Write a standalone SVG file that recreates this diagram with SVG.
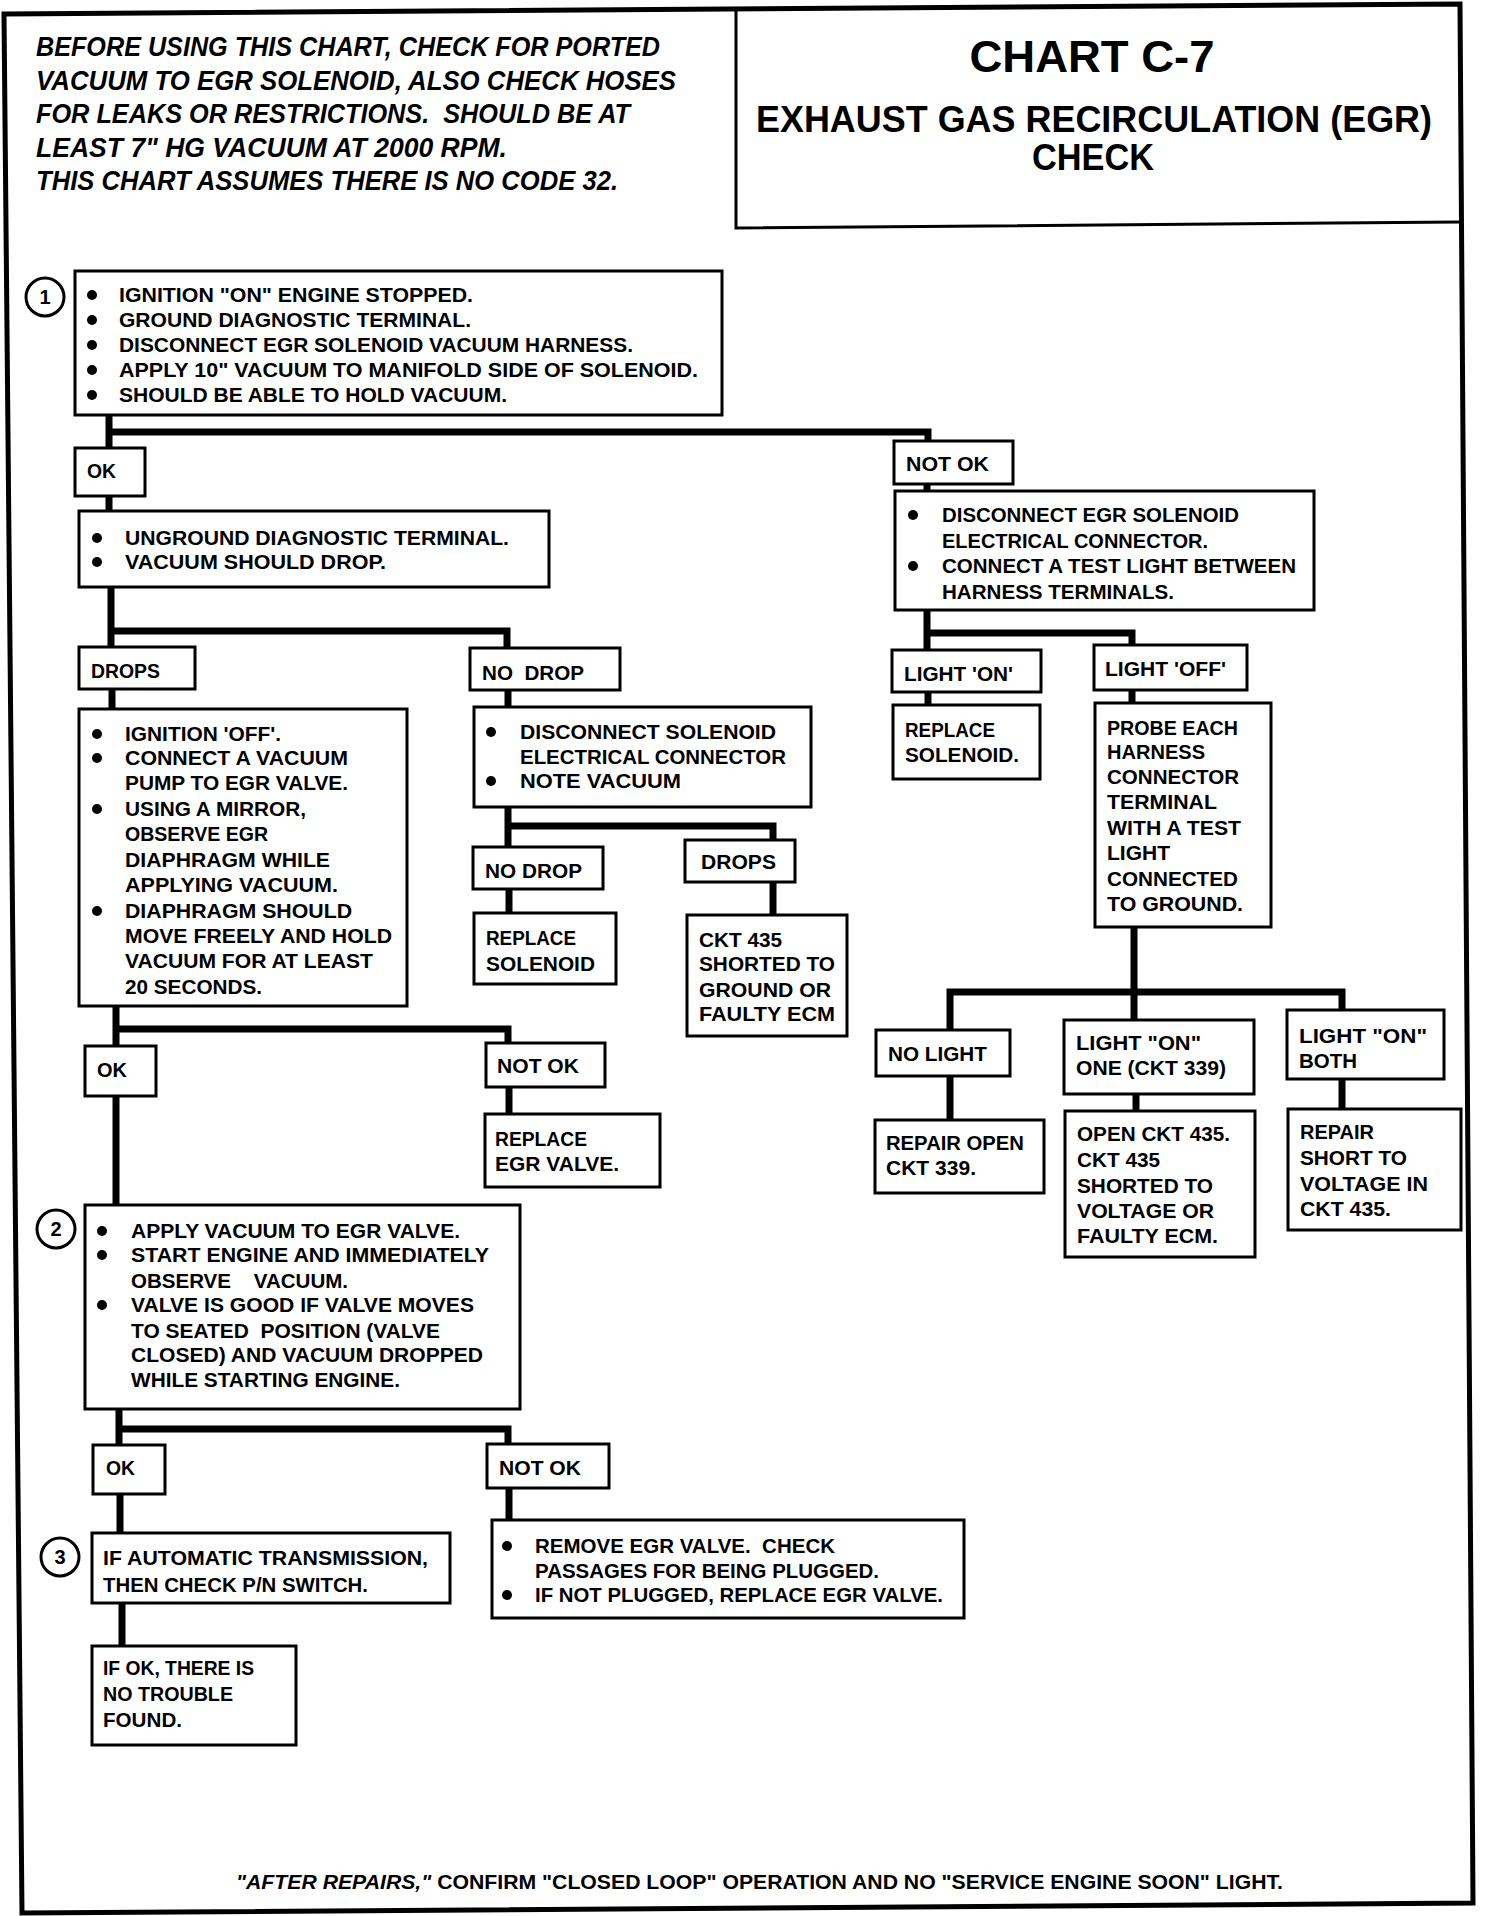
<svg xmlns="http://www.w3.org/2000/svg" width="1504" height="1916" viewBox="0 0 1504 1916">
<style>
.box{fill:#fff;stroke:#000;stroke-width:3}
.t{font-family:"Liberation Sans",Arial,sans-serif;font-weight:bold;font-size:21px;fill:#000}
.h{font-family:"Liberation Sans",Arial,sans-serif;font-weight:bold;font-style:italic;font-size:27px;fill:#000}
.ti{font-family:"Liberation Sans",Arial,sans-serif;font-weight:bold;fill:#000;text-anchor:middle}
.conn{stroke:#000;stroke-width:7;fill:none;stroke-linecap:square}
.num{fill:#fff;stroke:#000;stroke-width:3}
.b{fill:#000}
</style>
<rect width="1504" height="1916" fill="#fff"/>
<g id="frame">
<polygon points="4,14 1460,4 1473,1903 22,1913" fill="none" stroke="#000" stroke-width="5"/>
<path d="M736,10 V228 L1460,222" fill="none" stroke="#000" stroke-width="3"/>
</g>
<g id="header">
<text class="h" x="36" y="56" textLength="624" lengthAdjust="spacingAndGlyphs">BEFORE USING THIS CHART, CHECK FOR PORTED</text>
<text class="h" x="36" y="90" textLength="640" lengthAdjust="spacingAndGlyphs">VACUUM TO EGR SOLENOID, ALSO CHECK HOSES</text>
<text class="h" x="36" y="123" textLength="594" lengthAdjust="spacingAndGlyphs" xml:space="preserve">FOR LEAKS OR RESTRICTIONS.  SHOULD BE AT</text>
<text class="h" x="36" y="157" textLength="471" lengthAdjust="spacingAndGlyphs">LEAST 7" HG VACUUM AT 2000 RPM.</text>
<text class="h" x="36" y="190" textLength="582" lengthAdjust="spacingAndGlyphs">THIS CHART ASSUMES THERE IS NO CODE 32.</text>
</g>
<g id="title">
<text class="ti" x="1092" y="72" font-size="44" textLength="245" lengthAdjust="spacingAndGlyphs">CHART C-7</text>
<text class="ti" x="1094" y="132" font-size="37" textLength="676" lengthAdjust="spacingAndGlyphs">EXHAUST GAS RECIRCULATION (EGR)</text>
<text class="ti" x="1093" y="170" font-size="37" textLength="122" lengthAdjust="spacingAndGlyphs">CHECK</text>
</g>
<g id="connectors">
<path class="conn" d="M109,415 V448 M109,432 H928 V441"/>
<path class="conn" d="M109,496 V511"/>
<path class="conn" d="M111,587 V647 M111,631 H507 V648"/>
<path class="conn" d="M112,689 V709"/>
<path class="conn" d="M508,690 V707"/>
<path class="conn" d="M508,807 V847 M508,826 H773 V840"/>
<path class="conn" d="M509,889 V913"/>
<path class="conn" d="M773,882 V915"/>
<path class="conn" d="M116,1006 V1046 M116,1029 H508 V1043"/>
<path class="conn" d="M509,1087 V1114"/>
<path class="conn" d="M116,1096 V1205"/>
<path class="conn" d="M119,1409 V1445 M119,1429 H508 V1444"/>
<path class="conn" d="M120,1494 V1533"/>
<path class="conn" d="M509,1488 V1520"/>
<path class="conn" d="M122,1603 V1646"/>
<path class="conn" d="M927,484 V491"/>
<path class="conn" d="M927,610 V650 M927,633 H1132 V645"/>
<path class="conn" d="M928,692 V705"/>
<path class="conn" d="M1132,690 V703"/>
<path class="conn" d="M1134,927 V1020 M950,992 H1342 V1010 M950,992 V1030"/>
<path class="conn" d="M950,1076 V1120"/>
<path class="conn" d="M1136,1094 V1111"/>
<path class="conn" d="M1342,1079 V1109"/>
</g>
<g id="step1">
<circle class="num" cx="45" cy="297" r="19"/>
<text class="ti" x="45" y="304" font-size="20">1</text>
<rect class="box" x="75" y="271" width="647" height="144"/>
<circle class="b" cx="92" cy="295" r="5"/><circle class="b" cx="92" cy="320" r="5"/><circle class="b" cx="92" cy="345" r="5"/><circle class="b" cx="92" cy="370" r="5"/><circle class="b" cx="92" cy="395" r="5"/>
<text class="t" x="119" y="302" textLength="354" lengthAdjust="spacingAndGlyphs">IGNITION "ON" ENGINE STOPPED.</text>
<text class="t" x="119" y="327" textLength="352" lengthAdjust="spacingAndGlyphs">GROUND DIAGNOSTIC TERMINAL.</text>
<text class="t" x="119" y="352" textLength="514" lengthAdjust="spacingAndGlyphs">DISCONNECT EGR SOLENOID VACUUM HARNESS.</text>
<text class="t" x="119" y="377" textLength="579" lengthAdjust="spacingAndGlyphs">APPLY 10" VACUUM TO MANIFOLD SIDE OF SOLENOID.</text>
<text class="t" x="119" y="402" textLength="388" lengthAdjust="spacingAndGlyphs">SHOULD BE ABLE TO HOLD VACUUM.</text>
</g>
<g id="ok1"><rect class="box" x="75" y="448" width="70" height="48"/><text class="t" x="87" y="478" textLength="29" lengthAdjust="spacingAndGlyphs">OK</text></g>
<g id="notok1"><rect class="box" x="894" y="441" width="119" height="43"/><text class="t" x="906" y="471" textLength="83" lengthAdjust="spacingAndGlyphs">NOT OK</text></g>
<g id="unground">
<rect class="box" x="79" y="511" width="470" height="76"/>
<circle class="b" cx="97" cy="538" r="5"/><circle class="b" cx="97" cy="562" r="5"/>
<text class="t" x="125" y="545" textLength="384" lengthAdjust="spacingAndGlyphs">UNGROUND DIAGNOSTIC TERMINAL.</text>
<text class="t" x="125" y="569" textLength="261" lengthAdjust="spacingAndGlyphs">VACUUM SHOULD DROP.</text>
</g>
<g id="disc-egr">
<rect class="box" x="895" y="491" width="419" height="119"/>
<circle class="b" cx="913" cy="515" r="5"/><circle class="b" cx="913" cy="566" r="5"/>
<text class="t" x="942" y="522" textLength="297" lengthAdjust="spacingAndGlyphs">DISCONNECT EGR SOLENOID</text>
<text class="t" x="942" y="548" textLength="266" lengthAdjust="spacingAndGlyphs">ELECTRICAL CONNECTOR.</text>
<text class="t" x="942" y="573" textLength="354" lengthAdjust="spacingAndGlyphs">CONNECT A TEST LIGHT BETWEEN</text>
<text class="t" x="942" y="599" textLength="232" lengthAdjust="spacingAndGlyphs">HARNESS TERMINALS.</text>
</g>
<g id="drops1"><rect class="box" x="79" y="647" width="116" height="42"/><text class="t" x="91" y="678" textLength="69" lengthAdjust="spacingAndGlyphs">DROPS</text></g>
<g id="nodrop1"><rect class="box" x="470" y="648" width="150" height="42"/><text class="t" x="482" y="680" textLength="102" lengthAdjust="spacingAndGlyphs" xml:space="preserve">NO  DROP</text></g>
<g id="lighton"><rect class="box" x="892" y="650" width="149" height="42"/><text class="t" x="904" y="681" textLength="109" lengthAdjust="spacingAndGlyphs">LIGHT 'ON'</text></g>
<g id="lightoff"><rect class="box" x="1094" y="645" width="153" height="45"/><text class="t" x="1105" y="676" textLength="121" lengthAdjust="spacingAndGlyphs">LIGHT 'OFF'</text></g>
<g id="ign-off">
<rect class="box" x="79" y="709" width="328" height="297"/>
<circle class="b" cx="97" cy="734" r="5"/><circle class="b" cx="97" cy="758" r="5"/><circle class="b" cx="97" cy="809" r="5"/><circle class="b" cx="97" cy="911" r="5"/>
<text class="t" x="125" y="741" textLength="156" lengthAdjust="spacingAndGlyphs">IGNITION 'OFF'.</text>
<text class="t" x="125" y="765" textLength="223" lengthAdjust="spacingAndGlyphs">CONNECT A VACUUM</text>
<text class="t" x="125" y="790" textLength="223" lengthAdjust="spacingAndGlyphs">PUMP TO EGR VALVE.</text>
<text class="t" x="125" y="816" textLength="181" lengthAdjust="spacingAndGlyphs">USING A MIRROR,</text>
<text class="t" x="125" y="841" textLength="143" lengthAdjust="spacingAndGlyphs">OBSERVE EGR</text>
<text class="t" x="125" y="867" textLength="205" lengthAdjust="spacingAndGlyphs">DIAPHRAGM WHILE</text>
<text class="t" x="125" y="892" textLength="213" lengthAdjust="spacingAndGlyphs">APPLYING VACUUM.</text>
<text class="t" x="125" y="918" textLength="227" lengthAdjust="spacingAndGlyphs">DIAPHRAGM SHOULD</text>
<text class="t" x="125" y="943" textLength="267" lengthAdjust="spacingAndGlyphs">MOVE FREELY AND HOLD</text>
<text class="t" x="125" y="968" textLength="248" lengthAdjust="spacingAndGlyphs">VACUUM FOR AT LEAST</text>
<text class="t" x="125" y="994" textLength="137" lengthAdjust="spacingAndGlyphs">20 SECONDS.</text>
</g>
<g id="disc-sol">
<rect class="box" x="474" y="707" width="337" height="100"/>
<circle class="b" cx="491" cy="732" r="5"/><circle class="b" cx="491" cy="781" r="5"/>
<text class="t" x="520" y="739" textLength="256" lengthAdjust="spacingAndGlyphs">DISCONNECT SOLENOID</text>
<text class="t" x="520" y="764" textLength="266" lengthAdjust="spacingAndGlyphs">ELECTRICAL CONNECTOR</text>
<text class="t" x="520" y="788" textLength="161" lengthAdjust="spacingAndGlyphs">NOTE VACUUM</text>
</g>
<g id="repl-sol1">
<rect class="box" x="893" y="705" width="147" height="74"/>
<text class="t" x="905" y="737" textLength="90" lengthAdjust="spacingAndGlyphs">REPLACE</text>
<text class="t" x="905" y="762" textLength="114" lengthAdjust="spacingAndGlyphs">SOLENOID.</text>
</g>
<g id="probe">
<rect class="box" x="1095" y="703" width="176" height="224"/>
<text class="t" x="1107" y="735" textLength="131" lengthAdjust="spacingAndGlyphs">PROBE EACH</text>
<text class="t" x="1107" y="759" textLength="98" lengthAdjust="spacingAndGlyphs">HARNESS</text>
<text class="t" x="1107" y="784" textLength="132" lengthAdjust="spacingAndGlyphs">CONNECTOR</text>
<text class="t" x="1107" y="809" textLength="110" lengthAdjust="spacingAndGlyphs">TERMINAL</text>
<text class="t" x="1107" y="835" textLength="134" lengthAdjust="spacingAndGlyphs">WITH A TEST</text>
<text class="t" x="1107" y="860" textLength="63" lengthAdjust="spacingAndGlyphs">LIGHT</text>
<text class="t" x="1107" y="886" textLength="131" lengthAdjust="spacingAndGlyphs">CONNECTED</text>
<text class="t" x="1107" y="911" textLength="136" lengthAdjust="spacingAndGlyphs">TO GROUND.</text>
</g>
<g id="nodrop2"><rect class="box" x="473" y="847" width="130" height="42"/><text class="t" x="485" y="878" textLength="97" lengthAdjust="spacingAndGlyphs">NO DROP</text></g>
<g id="drops2"><rect class="box" x="685" y="840" width="110" height="42"/><text class="t" x="701" y="869" textLength="75" lengthAdjust="spacingAndGlyphs">DROPS</text></g>
<g id="repl-sol2">
<rect class="box" x="474" y="913" width="142" height="71"/>
<text class="t" x="486" y="945" textLength="90" lengthAdjust="spacingAndGlyphs">REPLACE</text>
<text class="t" x="486" y="971" textLength="109" lengthAdjust="spacingAndGlyphs">SOLENOID</text>
</g>
<g id="ckt435">
<rect class="box" x="687" y="915" width="160" height="121"/>
<text class="t" x="699" y="947" textLength="83" lengthAdjust="spacingAndGlyphs">CKT 435</text>
<text class="t" x="699" y="971" textLength="136" lengthAdjust="spacingAndGlyphs">SHORTED TO</text>
<text class="t" x="699" y="997" textLength="132" lengthAdjust="spacingAndGlyphs">GROUND OR</text>
<text class="t" x="699" y="1021" textLength="136" lengthAdjust="spacingAndGlyphs">FAULTY ECM</text>
</g>
<g id="ok2"><rect class="box" x="85" y="1046" width="71" height="50"/><text class="t" x="97" y="1077" textLength="30" lengthAdjust="spacingAndGlyphs">OK</text></g>
<g id="notok2"><rect class="box" x="486" y="1043" width="119" height="44"/><text class="t" x="497" y="1073" textLength="82" lengthAdjust="spacingAndGlyphs">NOT OK</text></g>
<g id="repl-egr">
<rect class="box" x="485" y="1114" width="175" height="73"/>
<text class="t" x="495" y="1146" textLength="92" lengthAdjust="spacingAndGlyphs">REPLACE</text>
<text class="t" x="495" y="1171" textLength="124" lengthAdjust="spacingAndGlyphs">EGR VALVE.</text>
</g>
<g id="nolight"><rect class="box" x="876" y="1030" width="134" height="46"/><text class="t" x="888" y="1061" textLength="99" lengthAdjust="spacingAndGlyphs">NO LIGHT</text></g>
<g id="repair-open">
<rect class="box" x="875" y="1120" width="169" height="73"/>
<text class="t" x="886" y="1150" textLength="138" lengthAdjust="spacingAndGlyphs">REPAIR OPEN</text>
<text class="t" x="886" y="1175" textLength="90" lengthAdjust="spacingAndGlyphs">CKT 339.</text>
</g>
<g id="lon-one">
<rect class="box" x="1064" y="1020" width="190" height="74"/>
<text class="t" x="1076" y="1050" textLength="125" lengthAdjust="spacingAndGlyphs">LIGHT "ON"</text>
<text class="t" x="1076" y="1075" textLength="150" lengthAdjust="spacingAndGlyphs">ONE (CKT 339)</text>
</g>
<g id="open435">
<rect class="box" x="1065" y="1111" width="190" height="146"/>
<text class="t" x="1077" y="1141" textLength="153" lengthAdjust="spacingAndGlyphs">OPEN CKT 435.</text>
<text class="t" x="1077" y="1167" textLength="83" lengthAdjust="spacingAndGlyphs">CKT 435</text>
<text class="t" x="1077" y="1193" textLength="136" lengthAdjust="spacingAndGlyphs">SHORTED TO</text>
<text class="t" x="1077" y="1218" textLength="137" lengthAdjust="spacingAndGlyphs">VOLTAGE OR</text>
<text class="t" x="1077" y="1243" textLength="141" lengthAdjust="spacingAndGlyphs">FAULTY ECM.</text>
</g>
<g id="lon-both">
<rect class="box" x="1287" y="1010" width="157" height="69"/>
<text class="t" x="1299" y="1043" textLength="128" lengthAdjust="spacingAndGlyphs">LIGHT "ON"</text>
<text class="t" x="1299" y="1068" textLength="58" lengthAdjust="spacingAndGlyphs">BOTH</text>
</g>
<g id="repair-short">
<rect class="box" x="1288" y="1109" width="173" height="121"/>
<text class="t" x="1300" y="1139" textLength="74" lengthAdjust="spacingAndGlyphs">REPAIR</text>
<text class="t" x="1300" y="1165" textLength="107" lengthAdjust="spacingAndGlyphs">SHORT TO</text>
<text class="t" x="1300" y="1191" textLength="128" lengthAdjust="spacingAndGlyphs">VOLTAGE IN</text>
<text class="t" x="1300" y="1216" textLength="91" lengthAdjust="spacingAndGlyphs">CKT 435.</text>
</g>
<g id="step2">
<circle class="num" cx="56" cy="1229" r="19"/>
<text class="ti" x="56" y="1236" font-size="20">2</text>
<rect class="box" x="85" y="1205" width="435" height="204"/>
<circle class="b" cx="102" cy="1231" r="5"/><circle class="b" cx="102" cy="1255" r="5"/><circle class="b" cx="102" cy="1305" r="5"/>
<text class="t" x="131" y="1238" textLength="329" lengthAdjust="spacingAndGlyphs">APPLY VACUUM TO EGR VALVE.</text>
<text class="t" x="131" y="1262" textLength="358" lengthAdjust="spacingAndGlyphs">START ENGINE AND IMMEDIATELY</text>
<text class="t" x="131" y="1288" textLength="217" lengthAdjust="spacingAndGlyphs" xml:space="preserve">OBSERVE    VACUUM.</text>
<text class="t" x="131" y="1312" textLength="343" lengthAdjust="spacingAndGlyphs">VALVE IS GOOD IF VALVE MOVES</text>
<text class="t" x="131" y="1338" textLength="309" lengthAdjust="spacingAndGlyphs" xml:space="preserve">TO SEATED  POSITION (VALVE</text>
<text class="t" x="131" y="1362" textLength="352" lengthAdjust="spacingAndGlyphs">CLOSED) AND VACUUM DROPPED</text>
<text class="t" x="131" y="1387" textLength="269" lengthAdjust="spacingAndGlyphs">WHILE STARTING ENGINE.</text>
</g>
<g id="ok3"><rect class="box" x="93" y="1445" width="72" height="49"/><text class="t" x="106" y="1475" textLength="29" lengthAdjust="spacingAndGlyphs">OK</text></g>
<g id="notok3"><rect class="box" x="487" y="1444" width="122" height="44"/><text class="t" x="499" y="1475" textLength="82" lengthAdjust="spacingAndGlyphs">NOT OK</text></g>
<g id="step3">
<circle class="num" cx="60" cy="1557" r="19"/>
<text class="ti" x="60" y="1564" font-size="20">3</text>
<rect class="box" x="92" y="1533" width="358" height="70"/>
<text class="t" x="103" y="1565" textLength="325" lengthAdjust="spacingAndGlyphs">IF AUTOMATIC TRANSMISSION,</text>
<text class="t" x="103" y="1592" textLength="265" lengthAdjust="spacingAndGlyphs">THEN CHECK P/N SWITCH.</text>
</g>
<g id="remove">
<rect class="box" x="492" y="1520" width="472" height="98"/>
<circle class="b" cx="507" cy="1546" r="5"/><circle class="b" cx="507" cy="1595" r="5"/>
<text class="t" x="535" y="1553" textLength="300" lengthAdjust="spacingAndGlyphs" xml:space="preserve">REMOVE EGR VALVE.  CHECK</text>
<text class="t" x="535" y="1578" textLength="344" lengthAdjust="spacingAndGlyphs">PASSAGES FOR BEING PLUGGED.</text>
<text class="t" x="535" y="1602" textLength="408" lengthAdjust="spacingAndGlyphs">IF NOT PLUGGED, REPLACE EGR VALVE.</text>
</g>
<g id="ifok">
<rect class="box" x="92" y="1646" width="204" height="99"/>
<text class="t" x="103" y="1675" textLength="151" lengthAdjust="spacingAndGlyphs">IF OK, THERE IS</text>
<text class="t" x="103" y="1701" textLength="130" lengthAdjust="spacingAndGlyphs">NO TROUBLE</text>
<text class="t" x="103" y="1727" textLength="79" lengthAdjust="spacingAndGlyphs">FOUND.</text>
</g>
<g id="footer">
<text class="t" x="236" y="1889" textLength="1047" lengthAdjust="spacingAndGlyphs"><tspan font-style="italic">"AFTER REPAIRS,"</tspan> CONFIRM "CLOSED LOOP" OPERATION AND NO "SERVICE ENGINE SOON" LIGHT.</text>
</g>
</svg>
